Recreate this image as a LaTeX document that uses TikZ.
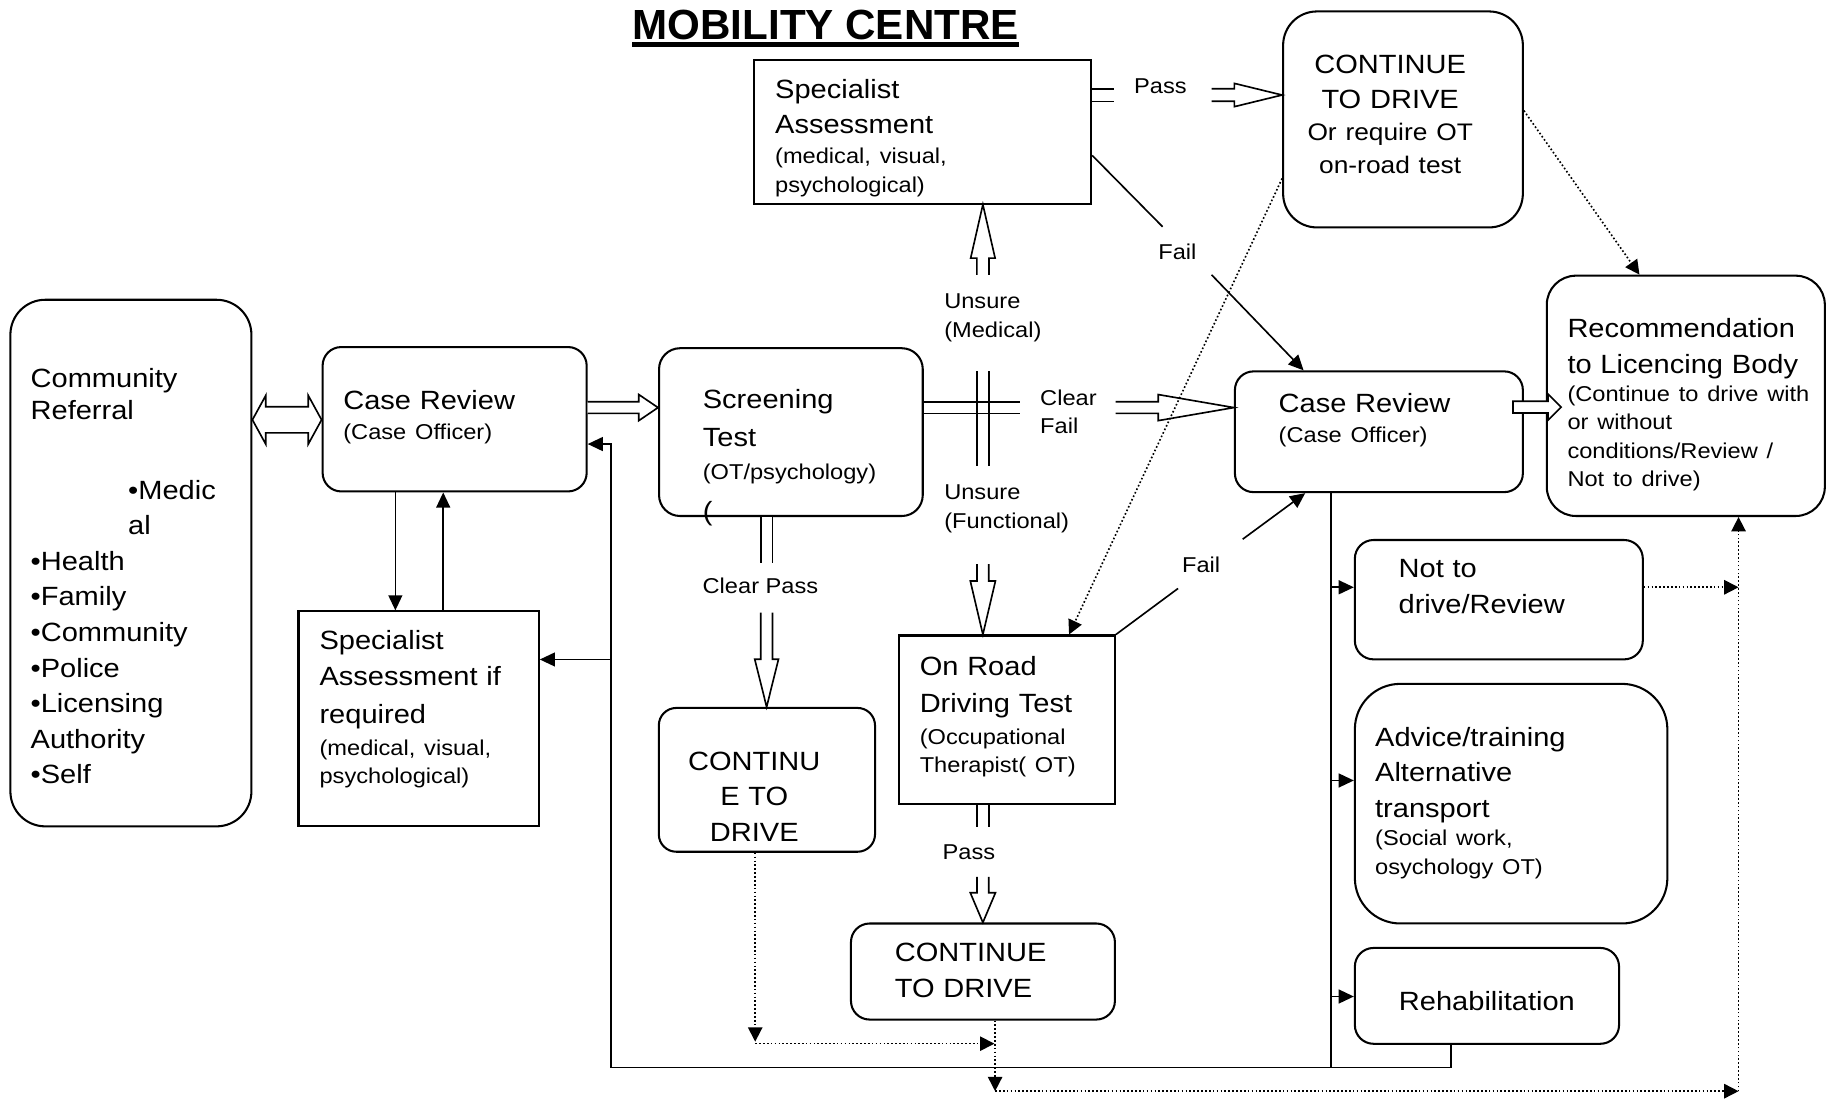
\documentclass[tikz,border=0pt]{standalone}
\usepackage{fontspec}
\setmainfont[FakeStretch=1.1]{Liberation Sans}
\newfontfamily\titlefont{Liberation Sans}
\usetikzlibrary{arrows.meta,calc}

\newcommand{\bigtxt}{\fontsize{12.9pt}{17.4pt}\selectfont}
\newcommand{\midtxt}{\fontsize{11.7pt}{15.7pt}\selectfont}
\newcommand{\smalltxt}{\fontsize{10.5pt}{13.9pt}\selectfont}

% hollow block arrow: [path end]{from}{tip}{half shaft}{half head}{head length}
\newcommand{\fatarrow}[6][]{%
  \coordinate (fat-h) at ($(#3)!#6!(#2)$);
  \draw[fat] ($(#2)!#4!90:(#3)$) -- ($(fat-h)!#4!-90:(#2)$) -- ($(fat-h)!#5!-90:(#2)$)
    -- (#3) -- ($(fat-h)!#5!90:(#2)$) -- ($(fat-h)!#4!90:(#2)$) -- ($(#2)!#4!-90:(#3)$) #1;
}
% hollow block arrow with two heads
\newcommand{\fatdarrow}[5]{%
  \coordinate (fat-a) at ($(#1)!#5!(#2)$);
  \coordinate (fat-b) at ($(#2)!#5!(#1)$);
  \draw[fat] (#1) -- ($(fat-a)!#4!90:(#2)$) -- ($(fat-a)!#3!90:(#2)$) -- ($(fat-b)!#3!-90:(#1)$)
    -- ($(fat-b)!#4!-90:(#1)$) -- (#2) -- ($(fat-b)!#4!90:(#1)$) -- ($(fat-b)!#3!90:(#1)$)
    -- ($(fat-a)!#3!-90:(#2)$) -- ($(fat-a)!#4!-90:(#2)$) -- cycle;
}

\tikzset{
  box/.style={draw, line width=1pt, align=left, inner ysep=0pt, font=\bigtxt},
  rbox/.style={box, rounded corners=0.32cm},
  textdrop/.style={text height=0pt, text depth=#1},
  conn/.style={line width=0.8pt},
  arr/.style={conn, -{Triangle[length=7.4pt,width=6.8pt]}},
  darr/.style={line width=0.8pt, dash pattern=on 0.8pt off 1.1pt, -{Triangle[length=7pt,width=7pt]}},
  fat/.style={draw, line width=0.8pt, fill=white},
  twin/.style={line width=0.8pt, double, double distance=#1},
  lbl/.style={font=\smalltxt, inner sep=0pt, text width=2.4cm, align=left, anchor=base west},
  lblc/.style={font=\smalltxt, inner sep=0pt, anchor=base},
}

\begin{document}
\begin{tikzpicture}[x=0.02cm, y=-0.02cm]
\useasboundingbox (0,0) rectangle (1568,943);

\node[anchor=base, inner sep=0pt, font=\titlefont\bfseries\fontsize{20.6pt}{24pt}\selectfont] (title) at (709,33.7) {MOBILITY CENTRE};
\draw[line width=2.2pt] ([yshift=-0.092cm]title.base west) -- ([yshift=-0.092cm]title.base east);

\node[rbox, rounded corners=0.6cm, minimum width=4.14cm, minimum height=9.046cm, text width=3.444cm, inner xsep=0.348cm, textdrop=6.044cm] (ref) at (112.4,483.5)
  {Community\\[-0.05cm]Referral\\[0.75cm]\hspace*{1.676cm}•Medic\\\hspace*{1.676cm}al\\•Health\\•Family\\•Community\\•Police\\•Licensing\\Authority\\•Self};
\node[rbox, minimum width=4.536cm, minimum height=2.48cm, text width=3.824cm, inner xsep=0.356cm, textdrop=0.34cm] (cr1) at (390.4,360)
  {Case Review\par\vspace{0.03cm}{\smalltxt (Case Officer)\par}};
\node[rbox, rounded corners=0.36cm, minimum width=4.53cm, minimum height=2.882cm, text width=3.026cm, inner xsep=0.752cm, textdrop=0.802cm] (scr) at (679.15,371.05)
  {Screening\\[0.04cm]Test\par\vspace{0.08cm}{\smalltxt (OT/psychology)\par}\vspace{0.08cm}(};
\node[box, minimum width=5.788cm, minimum height=2.472cm, text width=5.068cm, inner xsep=0.36cm, textdrop=1.148cm] (sa) at (792.3,113)
  {Specialist\\Assessment\par\vspace{0.03cm}{\smalltxt (medical, visual,\\psychological)\par}};
\node[rbox, rounded corners=0.58cm, align=center, minimum width=4.118cm, minimum height=3.71cm, text width=3.7cm, inner xsep=0.209cm, textdrop=1.586cm] (ctd1) at (1204.75,102.55)
  {\leftskip=0pt plus 1fil\rightskip=0.44cm plus 1fil\parfillskip=0pt\relax CONTINUE\par TO DRIVE\par{\midtxt Or require OT\par on-road test\par}};
\node[box, minimum width=4.128cm, minimum height=3.692cm, text width=3.404cm, inner xsep=0.362cm, textdrop=2.376cm] (sar) at (359.5,617.3)
  {Specialist\\Assessment if\\[0.04cm]required\par\vspace{0.06cm}{\smalltxt (medical, visual,\\psychological)\par}};
\node[box, minimum width=3.714cm, minimum height=2.896cm, text width=2.99cm, inner xsep=0.362cm, textdrop=1.52cm] (ort) at (864.55,618.1)
  {On Road\\[0.02cm]Driving Test\par\vspace{0.06cm}{\smalltxt (Occupational\\Therapist( OT)\par}};
\node[rbox, rounded corners=0.3cm, align=center, minimum width=3.714cm, minimum height=2.47cm, text width=3.314cm, inner xsep=0.2cm, textdrop=0.334cm] (ctd2) at (658.55,669.65)
  {\leftskip=0pt plus 1fil\rightskip=0.434cm plus 1fil\parfillskip=0pt\relax CONTINU\par E TO\par DRIVE\par};
\node[rbox, minimum width=4.534cm, minimum height=1.65cm, text width=3.026cm, inner xsep=0.754cm, textdrop=0.342cm] (ctd3) at (844.05,834.25)
  {CONTINUE\\TO DRIVE};
\node[rbox, minimum width=4.946cm, minimum height=2.074cm, text width=3.442cm, inner xsep=0.752cm, textdrop=0.662cm] (cr2) at (1184.05,370.75)
  {Case Review\par\vspace{0.03cm}{\smalltxt (Case Officer)\par}};
\node[rbox, rounded corners=0.5cm, minimum width=4.776cm, minimum height=4.128cm, text width=4.064cm, inner xsep=0.356cm, textdrop=2.004cm] (rec) at (1447.6,339.9)
  {\mbox{Recommendation}\\\mbox{to Licencing Body}\par{\smalltxt \mbox{(Continue to drive with}\\or without\\conditions/Review /\\Not to drive)\par}};
\node[rbox, minimum width=4.946cm, minimum height=2.05cm, text width=3.442cm, inner xsep=0.752cm, textdrop=0.75cm] (ntd) at (1287.05,514.95)
  {Not to\\drive/Review};
\node[rbox, rounded corners=0.78cm, minimum width=5.368cm, minimum height=4.116cm, text width=4.672cm, inner xsep=0.348cm, textdrop=1.976cm] (adv) at (1297.6,690.1)
  {Advice/training\\Alternative\\transport\par{\smalltxt (Social work,\\osychology OT)\par}};
\node[rbox, align=center, minimum width=4.538cm, minimum height=1.646cm, text height=0.494cm, text depth=0pt] (rehab) at (1276.85,855.15) {Rehabilitation};

\node[lblc] (passtop) at (996.5,80) {Pass};
\node[lblc] (failtop) at (1011,223) {Fail};
\node[lbl] (unsuremed) at (810.5,265.3) {Unsure\\(Medical)};
\node[lbl] (clearfail) at (892.9,348) {Clear\\Fail};
\node[lbl] (unsurefun) at (810.5,429) {Unsure\\(Functional)};
\node[lblc] (clearpass) at (653,510) {Clear Pass};
\node[lblc] (failbot) at (1031.4,491.5) {Fail};
\node[lblc] (passbot) at (832,738) {Pass};

\coordinate (ref-e) at (ref.east |- 0,360.5);
\coordinate (cr1-w) at (cr1.west |- 0,360.5);
\fatdarrow{ref-e}{cr1-w}{2.24mm}{4.2mm}{2.3mm}

\coordinate (cr1-e) at (cr1.east |- 0,350);
\coordinate (scr-w) at (scr.west |- 0,350);
\fatarrow{cr1-e}{scr-w}{1mm}{2.24mm}{3.3mm}

\coordinate (sa-e) at (sa.east |- 0,81.6);
\coordinate (pass-a) at (957,81.6);
\coordinate (pass-b) at (1040.4,81.6);
\coordinate (ctd1-w) at (ctd1.west |- 0,81.6);
\draw[twin=5.35pt] (sa-e) -- (pass-a);
\fatarrow{pass-b}{ctd1-w}{1.08mm}{2mm}{8.2mm}

\coordinate (scr-e) at (scr.east |- 0,350);
\coordinate (cf-a) at (875.6,350);
\coordinate (cf-b) at (958,350);
\coordinate (cr2-w) at (cr2.west |- 0,350);
\draw[twin=4.89pt] (scr-e) -- (cf-a);
\fatarrow{cf-b}{cr2-w}{1mm}{2.24mm}{13mm}

\foreach \dx in {-5,5}
  \draw[conn] (844+\dx,318.9) -- (844+\dx,400.2);

\coordinate (um) at (844,236.1);
\coordinate (sa-s) at (sa.south -| 844,0);
\fatarrow{um}{sa-s}{1.04mm}{2.1mm}{9.2mm}

\coordinate (uf) at (844,484.4);
\coordinate (ort-n) at (ort.north -| 844,0);
\fatarrow{uf}{ort-n}{1mm}{2.16mm}{9.2mm}

\coordinate (scr-s) at (scr.south -| 658.3,0);
\coordinate (cp-a) at (658.3,483.4);
\coordinate (cp-b) at (658.3,526);
\coordinate (ctd2-n) at (ctd2.north -| 658.3,0);
\draw[twin=4.89pt] (scr-s) -- (cp-a);
\fatarrow{cp-b}{ctd2-n}{1mm}{2.04mm}{8.2mm}

\coordinate (ort-s) at (ort.south -| 844,0);
\coordinate (pb-a) at (844,710.4);
\coordinate (pb-b) at (844,753);
\coordinate (ctd3-n) at (ctd3.north -| 844,0);
\draw[twin=4.89pt] (ort-s) -- (pb-a);
\fatarrow{pb-b}{ctd3-n}{1mm}{2.16mm}{5.1mm}

\coordinate (cr2-e) at (1299.2,349.6);
\coordinate (rec-in) at (1340.6,349.6);
\fatarrow[-- cycle]{cr2-e}{rec-in}{1mm}{2.24mm}{2.26mm}

\draw[arr] (cr1.south -| 339.5,0) -- (sar.north -| 339.5,0);
\draw[arr] (sar.north -| 380.6,0) -- (cr1.south -| 380.6,0);
\draw[arr] (rehab.south -| 1245.9,0) |- (524.6,916.7) |- (cr1.east |- 0,381.3);
\draw[arr] (524.6,566.3) -- (sar.east |- 0,566.3);
\draw[conn] (cr2.south -| 1143,0) -- (1143,916.7);
\draw[arr] (1143,504.3) -- (ntd.west |- 0,504.3);
\draw[arr] (1143,670.2) -- (adv.west |- 0,670.2);
\draw[arr] (1143,855.7) -- (rehab.west |- 0,855.7);

\coordinate (f1-a) at (998.3,194.7);
\coordinate (f1-b) at (1040.4,236);
\coordinate (f2-a) at (1011.6,505.3);
\coordinate (f2-b) at (1067.1,463);
\draw[conn] (sa.east |- 0,133.4) -- (f1-a);
\draw[arr] (f1-b) -- (cr2.north -| 1119.4,0);
\draw[conn] (ort.north east) -- (f2-a);
\draw[arr] (f2-b) -- (cr2.south -| 1120.8,0);

\coordinate (d1) at (648.5,896.2);
\coordinate (d2) at (854.5,937);
\coordinate (d3) at (1492.9,937);
\draw[darr] (ctd1.east |- 0,95) -- (rec.north -| 1407.8,0);
\draw[darr] (ctd1.west |- 0,153.3) -- (ort.north -| 918,0);
\draw[darr] (ctd2.south -| 648.5,0) -- (648.5,894.5);
\draw[darr] (d1) -- (853.9,896.2);
\draw[darr] (ctd3.south -| 854.5,0) -- (d2);
\draw[darr] (d2) -- (d3);
\draw[darr] (d3) -- (rec.south -| 1492.9,0);
\draw[darr] (ntd.east |- 0,504.3) -- (1492.9,504.3);
\end{tikzpicture}
\end{document}
